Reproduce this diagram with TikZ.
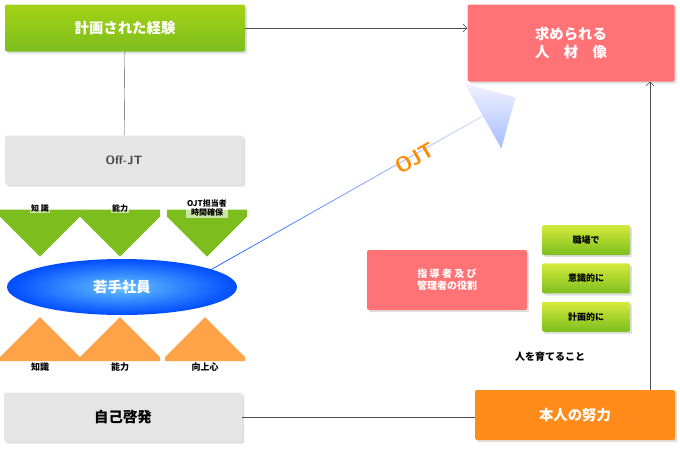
\documentclass[tikz,border=0pt]{standalone}
\usepackage{fontspec}
\newfontfamily\jp{Noto Sans CJK JP}
\usetikzlibrary{positioning,arrows.meta,shapes.geometric,shapes.arrows,shadows,calc}
\definecolor{leaf}{HTML}{7DBE1E}
\definecolor{peach}{HTML}{FF7377}
\definecolor{tang}{HTML}{FF8C1A}
\tikzstyle{box}  = [rectangle, rounded corners=2pt, drop shadow={opacity=0.25}, font=\jp\bfseries, text=white]
\tikzstyle{line} = [thin, black!70]
\begin{document}
\begin{tikzpicture}[x=1pt,y=-1pt,
			greenbox/.style={box, top color=leaf!70!yellow, bottom color=leaf, minimum width=240pt, minimum height=47pt, font=\jp\bfseries\Large},
			graybox/.style={box, fill=black!10, text=black!75, minimum width=238pt, minimum height=49pt},
			chip/.style={box, top color=leaf!40!yellow!80, bottom color=leaf, text=black, minimum width=88pt, minimum height=30pt, font=\jp\bfseries\small},
			downarrow/.style={single arrow, shape border rotate=270, fill=leaf, minimum width=80pt, single arrow head extend=0pt, minimum height=47pt, inner sep=0pt},
			uparrow/.style={single arrow, shape border rotate=90, fill=tang!80, minimum width=80pt, single arrow head extend=0pt, minimum height=44pt, inner sep=0pt},
			tag/.style={font=\jp\bfseries\small, text=black, fill=white, fill opacity=0.6, text opacity=1, inner sep=1pt, align=center}
		]
		\useasboundingbox (0,0) rectangle (680,448);

		% top row
		\node[greenbox] (plan) at (125,28) {計画された経験};
		\node[box, fill=peach, minimum width=207pt, minimum height=77pt, font=\jp\bfseries\Large, align=center] (goal) at (571,43) {求められる\\人\quad 材\quad 像};
		\draw[line, -{Straight Barb[length=4pt]}] (plan) -- (plan -| goal.west);

		% Off-JT
		\node[graybox, font=\sffamily\bfseries\large] (offjt) at (124,160) {Off-JT};
		\draw[line] (plan) -- (offjt);

		% green arrows
		\foreach \x/\t [count=\i] in {40/知\ 識, 120/能力, 207/{OJT担当者\\時間確保}} {
			\node[downarrow] (down\i) at (\x,213) {};
			\node[tag, font=\jp\bfseries\footnotesize] at (\x,208) {\t};
		}

		% OJT arrow
		\coordinate (ojtstart) at (180,287);
		\coordinate (ojtend) at (520,95);
		\node[single arrow, shading=axis, left color=blue!5, right color=blue!70!cyan, shading angle=0, minimum width=75pt, single arrow head extend=20pt, minimum height=380pt, rotate=29.5, inner sep=0pt] (ojt) at ($(ojtstart)!0.5!(ojtend)$) {};
		\node[font=\sffamily\bfseries\huge, text=orange!90!yellow, rotate=29.5] at (415,158) {OJT};

		% young staff
		\node[ellipse, minimum width=230pt, minimum height=56pt, inner color=cyan!60!blue!60, outer color=blue!70!cyan, font=\jp\bfseries\Large, text=white] (staff) at (122,287) {若手社員};

		% orange arrows
		\foreach \x/\t [count=\i] in {40/知識, 120/能力, 205/向上心} {
			\node[uparrow] (up\i) at (\x,359) {};
			\node[tag] at (\x,367) {\t};
		}

		% bottom row
		\node[graybox, text=black, font=\jp\bfseries\Large] (self) at (123,417) {自己啓発};
		\node[box, fill=tang, minimum width=200pt, minimum height=50pt, font=\jp\bfseries\Large] (effort) at (575,415) {本人の努力};
		\draw[line] (self) -- (self -| effort.west);
		\coordinate (effup) at (650,390);
		\draw[line, -{Straight Barb[length=4pt]}] (effup) -- (goal.south -| effup);

		% roles
		\node[box, fill=peach, minimum width=160pt, minimum height=60pt, font=\jp\bfseries, align=center] (role) at (447,280) {指\ 導\ 者\ 及\ び\\管理者の役割};
		\node[chip] (c1) at (586,240) {職場で};
		\node[chip, below=8pt of c1] (c2) {意識的に};
		\node[chip, below=8pt of c2] (c3) {計画的に};
		\node[font=\jp\bfseries, text=black] (raise) at (550,357) {人を育てること};
	\end{tikzpicture}
\end{document}
